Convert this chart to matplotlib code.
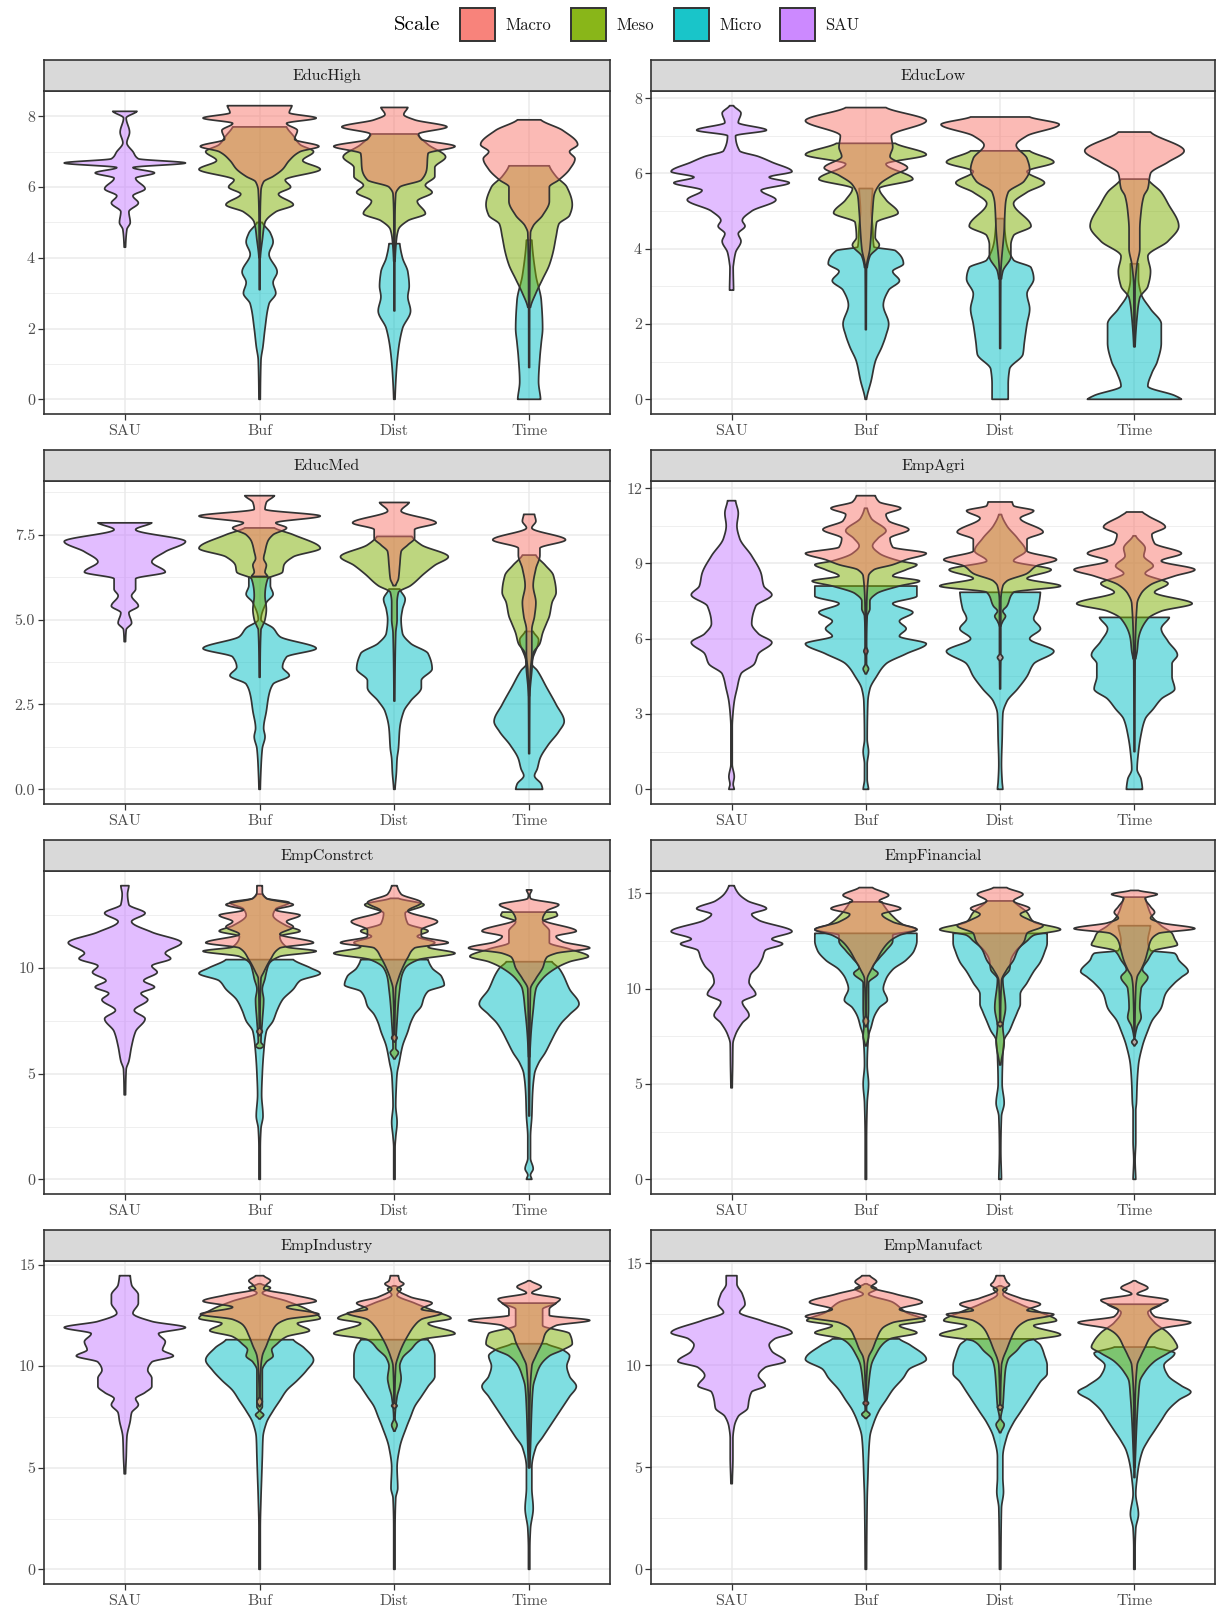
import numpy as np
import matplotlib
matplotlib.use("Agg")
import matplotlib.pyplot as plt
from matplotlib.colors import to_rgba
from matplotlib.patches import Rectangle

plt.rcParams["font.family"] = ["cmr10", "DejaVu Serif"]
plt.rcParams["axes.formatter.use_mathtext"] = True

SCALES = ["Macro", "Meso", "Micro", "SAU"]
COLORS = {"Macro": "#F8766D", "Meso": "#7CAE00", "Micro": "#00BFC4", "SAU": "#C77CFF"}
METHODS = ["SAU", "Buf", "Dist", "Time"]
DRAW_ORDER = ["Micro", "Meso", "Macro"]

# Violin outlines: (value, half-width) knots, half-width in units of category spacing.
# ---------------- EducHigh ----------------
educhigh_sau = [(4.3, .005), (4.8, .015), (5.0, .04), (5.3, .03), (5.55, .1), (5.75, .06), (5.95, .15),
                (6.25, .08), (6.4, .22), (6.55, .06), (6.68, .45), (6.8, .1), (7.0, .06), (7.25, .015),
                (7.55, .035), (7.95, .01), (8.14, .09)]
educhigh_buf = {
    "Macro": [(3.1, .003), (5.0, .004), (5.9, .01), (6.15, .03), (6.3, .1), (6.5, .17), (6.75, .22), (7.0, .3),
              (7.15, .44), (7.35, .26), (7.6, .28), (7.8, .2), (7.95, .42), (8.1, .22), (8.3, .24)],
    "Meso": [(4.0, .005), (4.5, .02), (5.0, .04), (5.3, .12), (5.5, .25), (5.8, .14), (6.0, .23), (6.2, .19),
             (6.5, .45), (6.75, .32), (7.0, .4), (7.2, .3), (7.45, .25), (7.7, .2)],
    "Micro": [(0.0, .005), (1.1, .01), (1.5, .025), (2.0, .04), (2.7, .07), (3.0, .12), (3.3, .1), (3.6, .13),
              (4.1, .07), (4.45, .1), (4.7, .08), (5.0, .02)],
}
educhigh_dist = {
    "Macro": [(2.5, .003), (5.0, .004), (5.8, .01), (6.0, .04), (6.2, .2), (6.5, .24), (6.95, .25), (7.15, .45),
              (7.35, .2), (7.5, .18), (7.7, .39), (7.9, .15), (8.05, .07), (8.25, .1)],
    "Meso": [(3.9, .005), (4.5, .015), (4.8, .03), (5.05, .1), (5.25, .23), (5.6, .17), (5.85, .28), (6.05, .23),
             (6.3, .3), (6.55, .3), (6.85, .38), (7.2, .25), (7.5, .17)],
    "Micro": [(0.0, .005), (0.8, .015), (1.4, .03), (2.0, .06), (2.5, .12), (2.9, .1), (3.2, .11), (3.6, .1),
              (4.0, .06), (4.4, .04)],
}
educhigh_time = {
    "Macro": [(0.9, .003), (3.0, .004), (4.7, .01), (4.9, .03), (5.2, .1), (5.6, .15), (6.0, .15), (6.2, .22),
              (6.5, .3), (6.8, .34), (7.0, .3), (7.2, .36), (7.6, .25), (7.9, .087)],
    "Meso": [(2.6, .01), (3.0, .05), (3.4, .1), (3.8, .15), (4.2, .18), (4.6, .2), (4.95, .22), (5.2, .3),
             (5.5, .32), (6.0, .28), (6.3, .2), (6.6, .15)],
    "Micro": [(0.0, .085), (0.5, .07), (1.2, .08), (1.6, .09), (2.0, .1), (2.8, .09), (3.5, .05), (4.5, .02)],
}

# ---------------- EducLow ----------------
educlow_sau = [(2.9, .015), (3.5, .012), (3.6, .015), (3.9, .03), (4.2, .07), (4.4, .05), (4.6, .1), (4.75, .08),
               (5.0, .15), (5.3, .33), (5.55, .22), (5.75, .43), (5.9, .28), (6.05, .45), (6.3, .3), (6.45, .2),
               (6.6, .06), (7.0, .03), (7.15, .26), (7.35, .05), (7.6, .07), (7.8, .015)]
educlow_buf = {
    "Macro": [(1.85, .003), (3.5, .005), (4.0, .03), (5.0, .05), (5.4, .06), (5.7, .1), (5.95, .2), (6.15, .31),
              (6.45, .18), (6.7, .2), (7.0, .19), (7.4, .45), (7.75, .15)],
    "Meso": [(3.5, .01), (3.8, .03), (4.1, .1), (4.3, .07), (4.7, .08), (4.95, .24), (5.3, .15), (5.6, .1),
             (5.85, .35), (6.25, .15), (6.5, .45), (6.8, .22)],
    "Micro": [(0.0, .005), (0.5, .04), (1.0, .07), (1.4, .12), (1.7, .15), (2.0, .17), (2.5, .13), (2.9, .17),
              (3.15, .25), (3.4, .2), (3.6, .28), (3.95, .22), (4.05, .06), (4.6, .05), (5.0, .04), (5.6, .05)],
}
educlow_dist = {
    "Macro": [(1.35, .003), (3.3, .005), (4.5, .03), (5.2, .04), (5.5, .06), (5.8, .18), (6.1, .22), (6.4, .2),
              (6.75, .12), (7.0, .2), (7.3, .44), (7.5, .22)],
    "Meso": [(3.2, .01), (3.4, .02), (3.8, .08), (4.1, .08), (4.35, .1), (4.6, .23), (5.2, .1), (5.5, .2),
             (5.75, .33), (6.05, .2), (6.3, .4), (6.6, .22)],
    "Micro": [(0.0, .06), (0.4, .06), (0.8, .07), (1.2, .17), (1.5, .18), (2.0, .2), (2.4, .22), (2.8, .2),
              (3.2, .25), (3.5, .23), (3.7, .1), (4.3, .04), (4.8, .03)],
}
educlow_time = {
    "Macro": [(1.4, .003), (3.0, .005), (3.6, .02), (4.0, .04), (4.5, .04), (5.0, .05), (5.4, .07), (5.6, .1),
              (6.0, .12), (6.3, .25), (6.6, .37), (7.1, .12)],
    "Meso": [(1.4, .005), (2.2, .02), (2.7, .04), (3.0, .1), (3.4, .12), (3.8, .1), (4.2, .25), (4.6, .33),
             (5.2, .25), (5.5, .2), (5.85, .1)],
    "Micro": [(0.0, .35), (0.1, .3), (0.35, .1), (0.7, .13), (1.0, .17), (1.5, .2), (2.0, .2), (2.4, .12),
              (2.8, .05), (3.2, .03), (3.6, .03)],
}

# ---------------- EducMed ----------------
educmed_sau = [(4.35, .005), (4.7, .01), (4.9, .05), (5.2, .03), (5.4, .1), (5.7, .05), (5.9, .08), (6.2, .08),
               (6.4, .3), (6.7, .2), (7.0, .3), (7.3, .45), (7.65, .08), (7.85, .2)]
educmed_buf = {
    "Macro": [(6.27, .06), (6.4, .04), (6.6, .05), (6.8, .03), (7.0, .04), (7.3, .06), (7.5, .1), (7.7, .2),
              (7.85, .12), (8.05, .45), (8.25, .04), (8.45, .05), (8.65, .11)],
    "Meso": [(3.3, .003), (4.7, .01), (4.8, .02), (5.0, .04), (5.3, .05), (5.7, .04), (6.2, .06), (6.4, .17),
             (6.6, .18), (6.85, .25), (7.1, .45), (7.5, .25), (7.7, .11)],
    "Micro": [(0.0, .005), (0.6, .01), (1.2, .02), (1.55, .04), (1.8, .03), (2.3, .05), (2.8, .07), (3.1, .1),
              (3.35, .22), (3.6, .17), (3.9, .2), (4.15, .42), (4.5, .15), (4.75, .1), (5.0, .01), (5.5, .05),
              (5.75, .1), (6.0, .08), (6.25, .08)],
}
educmed_dist = {
    "Macro": [(6.0, .01), (6.2, .03), (6.6, .04), (7.0, .05), (7.2, .1), (7.4, .15), (7.65, .15), (7.85, .31),
              (8.2, .05), (8.45, .11)],
    "Meso": [(2.6, .003), (4.6, .01), (5.0, .02), (5.5, .02), (5.8, .03), (6.0, .12), (6.35, .22), (6.6, .3),
             (6.85, .4), (7.2, .2), (7.45, .13)],
    "Micro": [(0.0, .005), (0.5, .015), (0.9, .02), (1.2, .03), (1.8, .04), (2.3, .07), (2.6, .12), (3.0, .2),
              (3.2, .2), (3.55, .28), (4.0, .25), (4.3, .12), (4.6, .06), (5.0, .05), (5.3, .06), (5.6, .08),
              (5.9, .04)],
}
educmed_time = {
    "Macro": [(2.75, .003), (3.5, .01), (4.0, .02), (4.7, .02), (5.1, .04), (5.5, .05), (6.0, .03), (6.5, .05),
              (6.9, .08), (7.1, .08), (7.35, .27), (7.7, .02), (7.9, .05), (8.1, .04)],
    "Meso": [(1.05, .003), (2.75, .005), (3.5, .02), (4.0, .03), (4.3, .08), (4.6, .1), (4.9, .13), (5.1, .15),
             (5.5, .17), (5.8, .2), (6.3, .18), (6.6, .12), (6.9, .05)],
    "Micro": [(0.0, .1), (0.15, .09), (0.4, .04), (0.6, .06), (0.9, .08), (1.3, .14), (1.7, .22), (2.0, .26),
              (2.5, .2), (3.0, .13), (3.5, .06), (3.7, .02), (4.4, .07), (4.65, .03)],
}

# ---------------- EmpAgri ----------------
empagri_sau = [(0.0, .02), (0.2, .012), (0.5, .02), (1.0, .005), (2.5, .005), (3.0, .01), (3.5, .02), (4.0, .04),
               (4.6, .07), (5.0, .17), (5.4, .2), (5.85, .3), (6.2, .2), (6.6, .15), (7.3, .18), (7.75, .3),
               (8.1, .24), (8.6, .22), (9.3, .15), (10.0, .06), (10.5, .04), (11.0, .05), (11.5, .03)]
empagri_buf = {
    "Macro": [(5.35, .003), (5.5, .015), (5.7, .003), (7.0, .005), (8.5, .02), (8.75, .06), (8.95, .2),
              (9.15, .3), (9.4, .45), (9.65, .2), (10.0, .18), (10.35, .32), (10.7, .17), (10.95, .15),
              (11.2, .26), (11.45, .1), (11.7, .07)],
    "Meso": [(4.6, .005), (4.8, .02), (5.0, .005), (6.0, .005), (6.9, .01), (7.2, .03), (7.5, .03), (7.8, .08),
             (8.1, .25), (8.3, .4), (8.5, .2), (8.75, .3), (8.95, .38), (9.1, .25), (9.4, .1), (9.7, .05),
             (10.0, .09), (10.3, .15), (10.8, .04), (11.2, .01)],
    "Micro": [(0.0, .02), (0.4, .01), (1.0, .01), (1.5, .02), (2.0, .01), (3.5, .015), (4.0, .03), (4.5, .08),
              (5.0, .15), (5.4, .3), (5.8, .45), (6.1, .25), (6.4, .3), (6.7, .25), (7.05, .35), (7.4, .2),
              (7.7, .38), (8.1, .38)],
}
empagri_dist = {
    "Macro": [(4.0, .003), (5.1, .005), (5.25, .02), (5.4, .005), (7.5, .005), (8.1, .02), (8.3, .05), (8.6, .2),
              (8.9, .27), (9.15, .42), (9.5, .2), (9.95, .2), (10.25, .32), (10.8, .15), (11.1, .25), (11.3, .1),
              (11.45, .09)],
    "Meso": [(6.5, .005), (6.7, .02), (6.9, .04), (7.1, .02), (7.3, .05), (7.85, .1), (8.1, .45), (8.4, .2),
             (8.75, .38), (9.1, .1), (9.5, .19), (10.0, .13), (10.5, .05), (10.95, .01)],
    "Micro": [(0.0, .02), (0.3, .015), (1.0, .01), (2.0, .015), (3.0, .02), (3.5, .05), (4.0, .13), (4.5, .2),
              (5.0, .25), (5.5, .4), (6.0, .22), (6.4, .3), (6.8, .25), (7.2, .28), (7.85, .3)],
}
empagri_time = {
    "Macro": [(1.5, .003), (5.0, .005), (7.4, .02), (7.8, .05), (8.15, .12), (8.5, .3), (8.75, .45), (9.1, .2),
              (9.4, .35), (9.8, .15), (10.15, .13), (10.45, .23), (10.9, .1), (11.05, .06)],
    "Meso": [(5.2, .01), (5.5, .02), (6.0, .03), (6.8, .1), (7.1, .2), (7.4, .43), (7.85, .15), (8.2, .25),
             (8.6, .08), (8.9, .14), (9.3, .07), (9.6, .08), (10.1, .01)],
    "Micro": [(0.0, .06), (0.4, .05), (0.8, .02), (1.5, .03), (2.2, .05), (2.8, .08), (3.2, .14), (3.6, .2),
              (4.0, .3), (4.5, .28), (5.0, .28), (5.35, .32), (5.9, .25), (6.4, .2), (6.85, .26)],
}

# ---------------- EmpConstrct ----------------
empconstrct_sau = [(4.0, .005), (5.2, .01), (5.6, .03), (6.3, .05), (7.0, .08), (7.6, .15), (8.0, .07),
                   (8.5, .17), (8.8, .12), (9.1, .22), (9.4, .14), (9.8, .24), (10.1, .2), (10.45, .34),
                   (10.7, .3), (11.2, .42), (11.7, .2), (12.2, .05), (12.6, .15), (13.0, .03), (13.5, .02),
                   (13.9, .03)]
empconstrct_buf = {
    "Macro": [(6.8, .003), (7.0, .02), (7.2, .003), (9.5, .01), (9.8, .03), (10.4, .08), (10.95, .15),
              (11.2, .4), (11.6, .15), (11.95, .25), (12.2, .2), (12.5, .3), (12.75, .12), (13.0, .25),
              (13.3, .05), (13.6, .02), (13.9, .02)],
    "Meso": [(6.2, .01), (6.3, .03), (6.5, .01), (7.5, .02), (8.5, .03), (9.0, .02), (9.5, .04), (9.8, .05),
             (10.2, .07), (10.55, .15), (10.8, .42), (11.0, .2), (11.5, .15), (11.75, .3), (12.0, .2),
             (12.5, .1), (12.8, .12), (13.1, .22), (13.3, .05), (13.5, .02)],
    "Micro": [(0.0, .005), (1.5, .005), (2.4, .01), (3.0, .025), (4.0, .015), (5.0, .02), (6.0, .03),
              (7.0, .05), (7.5, .1), (8.0, .13), (8.5, .17), (9.0, .25), (9.4, .3), (9.75, .45), (10.0, .38),
              (10.4, .25)],
}
empconstrct_dist = {
    "Macro": [(6.5, .003), (6.7, .02), (6.9, .003), (9.0, .01), (9.5, .03), (10.0, .06), (10.5, .1),
              (10.95, .15), (11.2, .4), (11.5, .2), (11.8, .2), (12.2, .32), (12.7, .1), (13.1, .2),
              (13.5, .05), (13.9, .02)],
    "Meso": [(5.7, .005), (6.0, .03), (6.2, .01), (7.5, .02), (8.4, .03), (9.0, .04), (9.5, .05), (10.0, .08),
             (10.4, .18), (10.7, .45), (11.0, .25), (11.2, .3), (11.5, .17), (11.75, .25), (12.1, .1),
             (12.6, .08), (13.0, .22), (13.3, .03)],
    "Micro": [(0.0, .005), (1.5, .005), (2.0, .01), (2.7, .02), (3.5, .01), (4.5, .015), (5.0, .02),
              (5.5, .035), (6.3, .06), (7.0, .1), (7.4, .12), (7.8, .15), (8.2, .2), (8.6, .22), (8.9, .25),
              (9.2, .37), (9.6, .35), (10.0, .28), (10.4, .25)],
}
empconstrct_time = {
    "Macro": [(3.0, .003), (6.0, .005), (9.0, .01), (9.5, .05), (10.0, .1), (10.5, .13), (10.7, .2),
              (10.95, .45), (11.25, .25), (11.5, .2), (11.75, .35), (12.3, .1), (12.7, .13), (13.0, .22),
              (13.3, .01), (13.45, .005), (13.7, .02)],
    "Meso": [(5.8, .005), (6.5, .01), (7.0, .015), (8.0, .03), (9.0, .05), (9.5, .1), (10.0, .2), (10.3, .3),
             (10.55, .44), (10.9, .3), (11.2, .15), (11.75, .15), (12.2, .1), (12.5, .21), (12.65, .2)],
    "Micro": [(0.0, .02), (0.2, .01), (0.5, .03), (1.0, .01), (2.0, .01), (3.0, .02), (4.0, .025), (5.0, .04),
              (5.5, .07), (6.0, .12), (6.5, .16), (7.0, .2), (7.4, .24), (7.8, .3), (8.3, .37), (9.0, .3),
              (9.7, .25), (10.0, .22), (10.3, .17)],
}

# ---------------- EmpFinancial ----------------
empfinancial_sau = [(4.8, .005), (6.0, .008), (7.1, .01), (7.6, .03), (8.2, .08), (8.6, .13), (9.3, .08),
                    (9.7, .18), (10.35, .13), (10.7, .14), (11.2, .2), (11.6, .23), (12.0, .25), (12.35, .38),
                    (12.6, .3), (13.0, .45), (13.6, .2), (13.9, .15), (14.2, .26), (14.6, .12), (15.0, .05),
                    (15.4, .02)]
empfinancial_buf = {
    "Macro": [(8.0, .003), (8.3, .02), (8.6, .003), (10.5, .01), (11.0, .04), (11.5, .08), (12.0, .12),
              (12.5, .18), (12.8, .25), (13.1, .38), (13.5, .2), (13.9, .12), (14.2, .26), (14.6, .1),
              (14.9, .17), (15.3, .05)],
    "Meso": [(7.0, .005), (7.5, .02), (8.0, .015), (9.0, .02), (10.3, .02), (10.8, .09), (11.1, .05),
             (11.6, .1), (12.0, .15), (12.5, .2), (12.8, .2), (13.1, .38), (13.35, .28), (13.8, .2),
             (14.2, .15), (14.55, .12)],
    "Micro": [(0.0, .005), (2.0, .005), (4.0, .01), (5.0, .02), (6.0, .01), (7.5, .02), (8.0, .04), (8.5, .06),
              (9.0, .1), (9.4, .16), (10.0, .13), (10.5, .15), (11.0, .2), (11.5, .3), (12.0, .36),
              (12.5, .38), (12.9, .38)],
}
empfinancial_dist = {
    "Macro": [(8.0, .003), (8.15, .02), (8.3, .003), (10.4, .01), (11.0, .05), (11.5, .1), (12.0, .13),
              (12.5, .18), (12.9, .2), (13.3, .32), (13.6, .22), (13.9, .15), (14.2, .22), (14.6, .1),
              (14.95, .17), (15.3, .05)],
    "Meso": [(6.0, .005), (7.2, .03), (8.0, .02), (9.0, .04), (10.5, .02), (11.0, .07), (11.5, .08),
             (12.0, .12), (12.5, .2), (12.8, .25), (13.1, .45), (13.5, .25), (14.0, .2), (14.6, .1)],
    "Micro": [(0.0, .01), (1.5, .005), (3.3, .01), (4.0, .03), (5.0, .015), (6.5, .02), (7.3, .03), (7.8, .07),
              (8.3, .1), (8.8, .13), (9.2, .15), (9.7, .15), (10.3, .2), (10.9, .25), (11.4, .3), (11.9, .33),
              (12.4, .35), (12.9, .35)],
}
empfinancial_time = {
    "Macro": [(7.0, .003), (7.2, .02), (7.4, .003), (10.0, .01), (10.6, .02), (11.0, .05), (11.5, .08),
              (12.0, .1), (12.5, .12), (12.9, .18), (13.15, .45), (13.45, .2), (13.7, .12), (14.0, .15),
              (14.3, .12), (14.75, .08), (14.95, .17), (15.15, .03)],
    "Meso": [(7.5, .005), (8.0, .02), (8.5, .05), (9.0, .04), (10.0, .05), (10.6, .1), (11.0, .06), (11.5, .1),
             (12.0, .15), (12.3, .32), (12.6, .3), (12.9, .28), (13.3, .2), (13.8, .13), (14.3, .1), (14.8, .08)],
    "Micro": [(0.0, .01), (1.0, .005), (2.0, .01), (3.6, .01), (4.0, .015), (5.0, .02), (6.0, .03), (7.0, .06),
              (7.8, .1), (8.3, .13), (9.0, .2), (9.7, .23), (10.3, .3), (10.6, .35), (10.9, .4), (11.5, .33),
              (11.85, .3), (12.0, .12), (12.5, .1), (13.3, .12)],
}

# ---------------- EmpIndustry ----------------
empindustry_sau = [(4.7, .005), (5.5, .01), (6.5, .015), (7.3, .04), (7.7, .05), (8.1, .1), (8.4, .08),
                   (8.7, .15), (9.0, .2), (9.4, .2), (9.8, .17), (10.2, .2), (10.5, .36), (10.8, .28), (11.2, .3),
                   (11.6, .25), (11.9, .45), (12.2, .2), (12.6, .06), (13.1, .1), (13.5, .1), (14.0, .05),
                   (14.45, .04)]
empindustry_buf = {
    "Macro": [(8.0, .003), (8.25, .02), (8.5, .003), (10.0, .01), (10.5, .02), (11.0, .05), (11.5, .08),
              (12.0, .12), (12.3, .2), (12.55, .44), (12.9, .2), (13.2, .42), (13.5, .25), (13.8, .03),
              (14.0, .05), (14.2, .08), (14.45, .03)],
    "Meso": [(7.4, .005), (7.6, .03), (7.8, .005), (8.0, .02), (9.0, .02), (9.8, .02), (10.2, .05), (10.5, .1),
             (10.8, .09), (11.1, .13), (11.45, .2), (11.75, .37), (12.1, .28), (12.35, .45), (12.8, .35),
             (13.2, .2), (13.6, .02), (13.85, .08), (14.05, .01)],
    "Micro": [(0.0, .005), (2.0, .005), (3.5, .01), (4.5, .015), (5.5, .02), (6.5, .025), (7.2, .05), (7.8, .1),
              (8.3, .15), (8.8, .2), (9.3, .28), (9.8, .35), (10.3, .4), (10.9, .33), (11.3, .25)],
}
empindustry_dist = {
    "Macro": [(7.9, .003), (8.05, .02), (8.2, .003), (10.0, .01), (10.5, .03), (11.0, .06), (11.5, .1),
              (12.0, .15), (12.3, .2), (12.6, .35), (12.8, .2), (13.1, .28), (13.4, .12), (13.8, .02),
              (14.05, .07), (14.2, .04), (14.45, .03)],
    "Meso": [(6.8, .005), (7.1, .02), (7.4, .005), (8.5, .02), (9.0, .04), (9.4, .05), (10.0, .04), (10.4, .06),
             (10.8, .12), (11.3, .2), (11.6, .45), (12.1, .25), (12.35, .42), (12.7, .3), (13.1, .15),
             (13.5, .02), (13.8, .05), (13.95, .01)],
    "Micro": [(0.0, .005), (2.0, .005), (3.5, .01), (4.0, .025), (5.0, .02), (6.0, .04), (7.0, .09), (7.5, .12),
              (8.0, .15), (8.5, .2), (9.0, .25), (9.5, .3), (10.0, .3), (10.5, .3), (11.0, .28), (11.3, .25)],
}
empindustry_time = {
    "Macro": [(5.0, .003), (8.0, .005), (10.0, .02), (10.5, .05), (11.2, .1), (11.6, .12), (12.0, .2),
              (12.25, .45), (12.5, .15), (12.8, .15), (13.1, .2), (13.3, .23), (13.6, .02), (13.9, .09),
              (14.2, .01)],
    "Meso": [(5.0, .005), (6.0, .01), (8.0, .02), (9.0, .03), (9.5, .05), (10.0, .08), (10.5, .15), (10.8, .25),
             (11.1, .32), (11.6, .3), (12.0, .1), (12.8, .1), (13.1, .2)],
    "Micro": [(0.0, .005), (1.0, .005), (2.0, .01), (3.0, .03), (4.0, .02), (5.0, .02), (6.0, .05), (6.5, .1),
              (7.0, .15), (7.5, .2), (8.0, .25), (8.5, .3), (9.0, .35), (9.5, .3), (10.0, .28), (10.5, .3),
              (10.8, .25), (11.1, .13)],
}

# ---------------- EmpManufact ----------------
empmanufact_sau = [(4.2, .005), (5.5, .01), (6.4, .01), (7.0, .02), (7.5, .05), (7.9, .12), (8.3, .13),
                   (8.7, .15), (9.0, .25), (9.5, .2), (9.9, .25), (10.2, .4), (10.7, .3), (11.0, .28), (11.3, .32),
                   (11.6, .45), (12.2, .22), (12.6, .06), (13.0, .1), (13.5, .08), (14.0, .04), (14.4, .04)]
empmanufact_buf = {
    "Macro": [(8.0, .003), (8.15, .02), (8.3, .003), (10.0, .01), (10.4, .02), (10.8, .05), (11.3, .08),
              (11.8, .12), (12.1, .2), (12.4, .45), (12.75, .25), (13.1, .42), (13.5, .22), (13.85, .04),
              (14.1, .08), (14.4, .03)],
    "Meso": [(7.4, .005), (7.6, .03), (7.8, .005), (9.0, .02), (10.0, .04), (10.6, .08), (11.0, .12),
             (11.3, .18), (11.6, .38), (11.95, .25), (12.2, .44), (12.6, .3), (13.1, .2), (13.5, .02),
             (13.75, .08), (14.0, .01)],
    "Micro": [(0.0, .005), (3.5, .01), (4.5, .015), (5.5, .02), (6.5, .03), (7.2, .06), (7.8, .1), (8.3, .15),
              (8.8, .2), (9.4, .28), (9.8, .32), (10.3, .45), (11.0, .33), (11.3, .25)],
}
empmanufact_dist = {
    "Macro": [(7.8, .003), (7.95, .02), (8.1, .003), (10.0, .01), (10.3, .02), (10.8, .05), (11.3, .08),
              (11.8, .12), (12.2, .2), (12.5, .4), (12.7, .2), (13.0, .3), (13.3, .15), (13.7, .02),
              (13.95, .07), (14.1, .05), (14.4, .03)],
    "Meso": [(6.7, .005), (7.1, .03), (7.4, .005), (8.0, .02), (9.0, .03), (9.8, .04), (10.3, .06), (10.7, .12),
             (11.2, .2), (11.5, .45), (11.95, .25), (12.2, .42), (12.6, .3), (13.0, .15), (13.5, .02),
             (13.75, .05), (13.9, .01)],
    "Micro": [(0.0, .005), (3.0, .01), (3.8, .025), (4.5, .02), (5.5, .02), (6.5, .05), (7.2, .1), (7.7, .15),
              (8.2, .2), (8.7, .25), (9.2, .3), (9.6, .35), (10.0, .35), (10.5, .33), (11.0, .3), (11.3, .25)],
}
empmanufact_time = {
    "Macro": [(4.5, .003), (8.0, .005), (10.0, .02), (10.5, .05), (10.9, .08), (11.4, .12), (11.8, .2),
              (12.1, .42), (12.4, .15), (12.7, .12), (13.0, .2), (13.2, .25), (13.5, .02), (13.8, .1),
              (14.15, .01)],
    "Meso": [(5.0, .005), (6.0, .01), (7.5, .02), (8.5, .03), (9.2, .04), (9.7, .08), (10.2, .15), (10.6, .25),
             (10.9, .32), (11.2, .3), (11.6, .25), (12.1, .15), (12.6, .1), (13.0, .2)],
    "Micro": [(0.0, .005), (1.0, .005), (2.0, .01), (2.7, .03), (3.7, .01), (4.5, .02), (5.0, .03), (5.8, .06),
              (6.3, .1), (6.8, .15), (7.3, .2), (7.8, .25), (8.3, .33), (8.7, .42), (9.0, .35), (9.5, .25),
              (10.0, .22), (10.6, .3), (10.9, .15)],
}

PANEL_NAMES = ["EducHigh", "EducLow", "EducMed", "EmpAgri",
               "EmpConstrct", "EmpFinancial", "EmpIndustry", "EmpManufact"]
PANEL_DATA = [
    (educhigh_sau, educhigh_buf, educhigh_dist, educhigh_time),
    (educlow_sau, educlow_buf, educlow_dist, educlow_time),
    (educmed_sau, educmed_buf, educmed_dist, educmed_time),
    (empagri_sau, empagri_buf, empagri_dist, empagri_time),
    (empconstrct_sau, empconstrct_buf, empconstrct_dist, empconstrct_time),
    (empfinancial_sau, empfinancial_buf, empfinancial_dist, empfinancial_time),
    (empindustry_sau, empindustry_buf, empindustry_dist, empindustry_time),
    (empmanufact_sau, empmanufact_buf, empmanufact_dist, empmanufact_time),
]
Y_STEP = [2, 2, 2.5, 3, 5, 5, 5, 5]
Y_DECIMALS = [0, 0, 1, 0, 0, 0, 0, 0]

# ---------------- drawing ----------------
W, H = 1217, 1613
fig = plt.figure(figsize=(W / 100, H / 100), dpi=100)
fig.patch.set_facecolor("white")

EDGE = "#333333"
GRID = "#EBEBEB"
TXT = "#4D4D4D"
COL_X = [(44, 610), (651, 1215)]
ROW_TOP = [60, 450, 840, 1230]
STRIP_H, PLOT_H = 31, 323


def outline(knots, n=30):
    """Monotone cubic (Fritsch-Carlson) half-width profile through the knots."""
    k = np.asarray(knots, float)
    y, w = k[:, 0], k[:, 1]
    h = np.diff(y)
    dl = np.diff(w) / h
    d = np.zeros_like(w)
    for i in range(1, len(w) - 1):
        if dl[i - 1] * dl[i] > 0:
            a, b = 2 * h[i] + h[i - 1], h[i] + 2 * h[i - 1]
            d[i] = (a + b) / (a / dl[i - 1] + b / dl[i])
    d[0], d[-1] = dl[0] * 0.5, dl[-1] * 0.5
    ys, ws = [y[0]], [w[0]]
    t = np.linspace(0, 1, n)[1:]
    h00 = 2 * t**3 - 3 * t**2 + 1
    h10 = t**3 - 2 * t**2 + t
    h01 = -2 * t**3 + 3 * t**2
    h11 = t**3 - t**2
    for i in range(len(h)):
        ys.extend(y[i] + h[i] * t)
        ws.extend(h00 * w[i] + h10 * h[i] * d[i] + h01 * w[i + 1] + h11 * h[i] * d[i + 1])
    return np.array(ys), np.maximum(np.array(ws), 0.002)


def draw_violin(ax, xc, knots, scale):
    y, w = outline(knots)
    xs = np.concatenate([xc - w, (xc + w)[::-1]])
    ys = np.concatenate([y, y[::-1]])
    ax.fill(xs, ys, facecolor=to_rgba(COLORS[scale], 0.5), edgecolor=EDGE,
            linewidth=1.25, joinstyle="round", zorder=3)


for i, name in enumerate(PANEL_NAMES):
    r, c = divmod(i, 2)
    x0, x1 = COL_X[c]
    top = ROW_TOP[r]
    ax = fig.add_axes([x0 / W, 1 - (top + STRIP_H + PLOT_H) / H, (x1 - x0) / W, PLOT_H / H])
    st = fig.add_axes([x0 / W, 1 - (top + STRIP_H) / H, (x1 - x0) / W, STRIP_H / H])

    sau, buf, dist, tim = PANEL_DATA[i]
    draw_violin(ax, 1, sau, "SAU")
    for xc, group in zip([2, 3, 4], [buf, dist, tim]):
        for scale in DRAW_ORDER:
            draw_violin(ax, xc, group[scale], scale)

    allk = [sau] + [g[s] for g in (buf, dist, tim) for s in DRAW_ORDER]
    lo = min(k[0][0] for k in allk)
    hi = max(k[-1][0] for k in allk)
    pad = 0.05 * (hi - lo)
    ax.set_ylim(lo - pad, hi + pad)
    ax.set_xlim(0.4, 4.6)

    step = Y_STEP[i]
    major = np.arange(0, hi + pad + 1e-9, step)
    minor = np.arange(step / 2, hi + pad, step)
    ax.set_yticks(major)
    ax.set_yticklabels([f"{v:.{Y_DECIMALS[i]}f}" for v in major])
    ax.set_yticks(minor, minor=True)
    ax.set_xticks(range(1, 5))
    ax.set_xticklabels(METHODS)
    for v in minor:
        ax.axhline(v, color=GRID, lw=0.55, zorder=0)
    for v in major:
        ax.axhline(v, color=GRID, lw=1.1, zorder=0)
    for v in range(1, 5):
        ax.axvline(v, color=GRID, lw=1.1, zorder=0)
    ax.tick_params(axis="both", which="major", length=4, width=0.9, color=EDGE,
                   labelsize=11.5, labelcolor=TXT)
    ax.tick_params(axis="x", which="major", pad=3.5)
    ax.tick_params(axis="y", which="major", pad=2.5)
    ax.tick_params(axis="y", which="minor", length=0)
    for sp in ax.spines.values():
        sp.set_color(EDGE)
        sp.set_linewidth(1.2)
        sp.set_zorder(5)

    st.set_facecolor("#D9D9D9")
    st.set_xticks([])
    st.set_yticks([])
    for sp in st.spines.values():
        sp.set_color(EDGE)
        sp.set_linewidth(1.2)
    st.text(0.5, 0.48, name, ha="center", va="center", fontsize=11.5, color="#1A1A1A",
            transform=st.transAxes)

# legend across the top
lg = fig.add_axes([0, 0, 1, 1], zorder=10)
lg.set_xlim(0, W)
lg.set_ylim(H, 0)
lg.axis("off")
lg.patch.set_alpha(0)
lg.text(394, 25, "Scale", ha="left", va="center", fontsize=15, color="black")
key_x = [460, 571, 674, 780]
for kx, scale in zip(key_x, SCALES):
    lg.add_patch(Rectangle((kx, 8), 35, 33, facecolor=to_rgba(COLORS[scale], 0.9),
                           edgecolor=EDGE, linewidth=1.4))
    lg.text(kx + 45, 25, scale, ha="left", va="center", fontsize=12, color="#1A1A1A")

fig.savefig("out.png", dpi=100, facecolor="white")
